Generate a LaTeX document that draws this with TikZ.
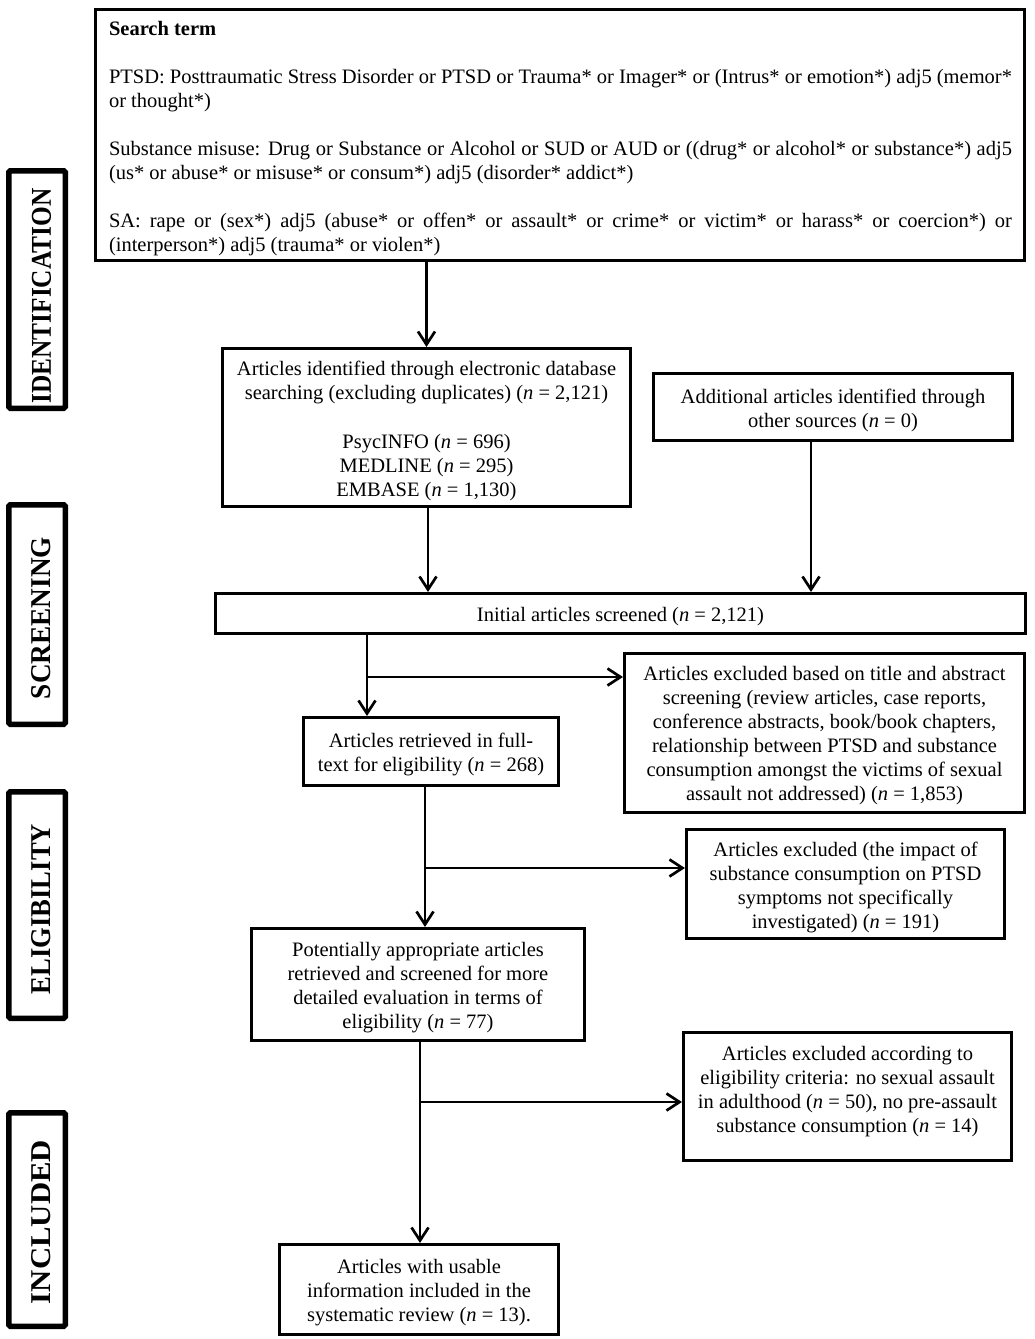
\documentclass[tikz,border=0pt]{standalone}
\usepackage{fontspec}
\setmainfont{Liberation Serif}
\usetikzlibrary{arrows.meta,calc}
\setlength{\parindent}{0pt}
\begin{document}
\begin{tikzpicture}[x=1pt,y=-1pt,
  box/.style={draw, line width=2.6pt, inner sep=0pt},
  boxtext/.style={inner sep=0pt, align=center, font=\fontsize{20.5}{24}\selectfont},
  stagebox/.style={draw, line width=5.5pt, rounded corners=1.5pt, inner sep=0pt},
  stagetext/.style={rotate=90, inner sep=0pt, font=\bfseries},
  arr/.style={line width=2.7pt, -{Straight Barb[length=13pt,width=17pt]}}]
\newcommand\flowbox[6]{%
  \node[box, minimum width=#4pt, minimum height=#5pt] (#1) at (#2,#3) {};
  \node[boxtext] (#1t) at ($(#1.center)+(0,3)$) {#6};}
\useasboundingbox (0,0) rectangle (1035,1339);
\fill[white] (0,0) rectangle (1035,1339);

% stage labels
\node[stagebox, minimum width=56.5pt, minimum height=237.5pt] (L1) at (37,289.5) {};
\node[stagetext] (L1t) at (41.5,296) {\resizebox{215pt}{19pt}{IDENTIFICATION}};
\node[stagebox, minimum width=56.5pt, minimum height=219.5pt] (L2) at (37,614.5) {};
\node[stagetext] (L2t) at (41.5,618) {\resizebox{162pt}{19pt}{SCREENING}};
\node[stagebox, minimum width=56.5pt, minimum height=226.5pt] (L3) at (37,905) {};
\node[stagetext] (L3t) at (41.5,909) {\resizebox{170pt}{19pt}{ELIGIBILITY}};
\node[stagebox, minimum width=56.5pt, minimum height=213.5pt] (L4) at (37,1219.5) {};
\node[stagetext] (L4t) at (41.5,1222) {\resizebox{164pt}{19pt}{INCLUDED}};

% search term box
\node[box, minimum width=929.5pt, minimum height=251.5pt] (b1) at (560,135) {};
\node[inner sep=0pt, text width=903pt, align=justify,
  font=\fontsize{20.5}{24}\selectfont] (b1t) at (560.5,139) {%
\textbf{Search term}\\[24pt]
PTSD: Posttraumatic Stress Disorder or PTSD or Trauma* or Imager* or (Intrus* or emotion*) adj5 (memor*\linebreak
or thought*)\\[24pt]
Substance misuse: Drug or Substance or Alcohol or SUD or AUD or ((drug* or alcohol* or substance*) adj5\linebreak
(us* or abuse* or misuse* or consum*) adj5 (disorder* addict*)\\[24pt]
SA: rape or (sex*) adj5 (abuse* or offen* or assault* or crime* or victim* or harass* or coercion*) or\linebreak
(interperson*) adj5 (trauma* or violen*)};

\flowbox{b2}{426.5}{427.5}{408.5}{158.5}
 {Articles identified through electronic database\\
  searching (excluding duplicates) (\textit{n} = 2,121)\\[25pt]
  PsycINFO (\textit{n} = 696)\\
  MEDLINE (\textit{n} = 295)\\
  EMBASE (\textit{n} = 1,130)}

\flowbox{b3}{833}{407}{359.5}{67.5}
 {Additional articles identified through\\ other sources (\textit{n} = 0)}

\flowbox{b4}{620.5}{613.5}{810.5}{40.5}
 {Initial articles screened (\textit{n} = 2,121)}

\flowbox{b5}{431}{751.5}{255.5}{68.5}
 {Articles retrieved in full-\\ text for eligibility (\textit{n} = 268)}

\flowbox{b6}{824.5}{733}{400.5}{159.5}
 {Articles excluded based on title and abstract\\
  screening (review articles, case reports,\\
  conference abstracts, book/book chapters,\\
  relationship between PTSD and substance\\
  consumption amongst the victims of sexual\\
  assault not addressed) (\textit{n} = 1,853)}

\flowbox{b8}{845.5}{884}{318.5}{109.5}
 {Articles excluded (the impact of\\
  substance consumption on PTSD\\
  symptoms not specifically\\
  investigated) (\textit{n} = 191)}

\flowbox{b7}{418}{984.5}{333.5}{112.5}
 {Potentially appropriate articles\\
  retrieved and screened for more\\
  detailed evaluation in terms of\\
  eligibility (\textit{n} = 77)}

\node[box, minimum width=328.5pt, minimum height=128.5pt] (b10) at (847.5,1096.5) {};
\node[boxtext] (b10t) at (847.5,1092)
 {Articles excluded according to\\
  eligibility criteria: no sexual assault\\
  in adulthood (\textit{n} = 50), no pre-assault\\
  substance consumption (\textit{n} = 14)};

\flowbox{b9}{419}{1289.5}{279.5}{90.5}
 {Articles with usable\\
  information included in the\\
  systematic review (\textit{n} = 13).}

% connectors
\draw[arr] (b2.north |- b1.south) -- (b2.north);
\coordinate (c2) at (428,508);
\draw[arr] (c2 |- b2.south) -- (c2 |- b4.north);
\coordinate (c3) at (811,442);
\draw[arr] (c3 |- b3.south) -- (c3 |- b4.north);

\coordinate (j1) at (367,677);
\draw[arr] (j1 |- b4.south) -- (j1 |- b5.north);
\draw[arr] (j1) -- (j1 -| b6.west);

\coordinate (j2) at (425,868);
\draw[arr] (j2 |- b5.south) -- (j2 |- b7.north);
\draw[arr] (j2) -- (j2 -| b8.west);

\coordinate (j3) at (420,1102);
\draw[arr] (j3 |- b7.south) -- (j3 |- b9.north);
\draw[arr] (j3) -- (j3 -| b10.west);
\end{tikzpicture}
\end{document}
